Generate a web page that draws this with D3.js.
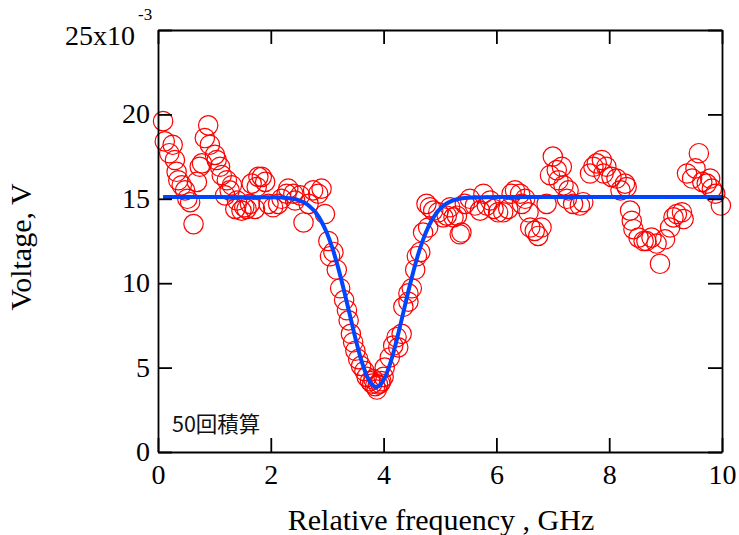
<!DOCTYPE html>
<html>
<head>
<meta charset="utf-8">
<script src="https://cdn.jsdelivr.net/npm/d3@7"></script>
<style>
  html, body { margin: 0; padding: 0; background: #fff; }
  svg { display: block; }
</style>
</head>
<body>
<svg id="chart" width="739" height="535"></svg>
<script>
// Measured voltage (x 10^-3 V) versus relative frequency (GHz), 50 averages
const measFreq = [
  0.09, 0.12, 0.20, 0.26, 0.30, 0.33, 0.36, 0.42, 0.48, 0.52, 0.57, 0.63, 0.69, 0.74, 0.78,
  0.83, 0.89, 0.92, 1.01, 1.04, 1.10, 1.13, 1.19, 1.22, 1.27, 1.31, 1.37, 1.40, 1.48, 1.53,
  1.57, 1.63, 1.66, 1.72, 1.75, 1.78, 1.84, 1.90, 1.96, 2.04, 2.13, 2.19, 2.28, 2.31, 2.40,
  2.43, 2.52, 2.58, 2.67, 2.75, 2.84, 2.90, 2.96, 3.02, 3.05, 3.11, 3.17, 3.23, 3.30, 3.35,
  3.38, 3.42, 3.46, 3.50, 3.55, 3.60, 3.66, 3.70, 3.76, 3.80, 3.82, 3.85, 3.88, 3.90, 3.94,
  3.96, 4.00, 4.02, 4.11, 4.17, 4.23, 4.26, 4.32, 4.35, 4.44, 4.44, 4.50, 4.56, 4.59, 4.65,
  4.70, 4.76, 4.79, 4.82, 4.88, 4.97, 5.06, 5.12, 5.18, 5.24, 5.30, 5.35, 5.38, 5.44, 5.53,
  5.62, 5.71, 5.77, 5.83, 5.89, 5.95, 6.03, 6.12, 6.21, 6.27, 6.33, 6.42, 6.45, 6.51, 6.57,
  6.60, 6.68, 6.74, 6.80, 6.89, 6.95, 7.00, 7.07, 7.10, 7.16, 7.19, 7.25, 7.28, 7.36, 7.48,
  7.54, 7.66, 7.72, 7.78, 7.87, 7.90, 7.95, 8.04, 8.13, 8.20, 8.28, 8.31, 8.37, 8.40, 8.43,
  8.52, 8.61, 8.66, 8.75, 8.84, 8.90, 8.99, 9.08, 9.14, 9.20, 9.29, 9.32, 9.38, 9.47, 9.53,
  9.59, 9.65, 9.73, 9.79, 9.82, 9.88, 9.98
];
const measVolt = [
  19.6, 18.4, 17.7, 18.2, 17.3, 16.6, 16.1, 15.8, 15.5, 15.0, 14.8, 13.5, 16.0, 16.9, 17.1,
  18.6, 19.35, 18.2, 17.6, 17.3, 16.9, 16.4, 15.2, 16.1, 15.5, 15.8, 14.4, 14.9, 14.3, 14.5,
  14.4, 14.7, 15.9, 14.4, 15.7, 16.3, 16.3, 16.0, 14.7, 14.5, 14.7, 15.0, 15.3, 15.6, 15.3,
  14.9, 15.2, 13.6, 14.7, 15.5, 15.3, 15.6, 14.1, 12.5, 11.6, 11.85, 10.8, 9.7, 9.0, 8.4,
  7.8, 7.0, 6.5, 6.0, 5.5, 5.1, 4.8, 4.45, 4.2, 4.05, 4.3, 3.9, 3.7, 4.0, 4.06,
  4.2, 4.45, 5.0, 5.6, 6.3, 6.8, 6.2, 7.0, 8.6, 8.9, 9.4, 9.7, 10.8, 11.6, 11.85,
  13.0, 14.7, 13.3, 14.5, 14.3, 14.2, 13.9, 14.0, 14.5, 13.9, 14.0, 12.9, 13.0, 14.7, 15.0,
  14.6, 14.3, 15.3, 14.6, 14.9, 14.4, 14.2, 14.2, 14.4, 15.3, 15.5, 15.3, 14.7, 15.0, 14.2,
  13.3, 13.1, 12.8, 13.3, 14.7, 16.4, 17.5, 16.7, 16.1, 16.9, 15.8, 15.0, 15.5, 14.7, 14.6,
  14.8, 16.5, 16.9, 17.1, 17.3, 16.5, 16.9, 16.3, 16.2, 15.5, 15.9, 15.7, 14.3, 13.7, 13.2,
  12.7, 12.5, 12.5, 12.7, 12.35, 11.15, 12.6, 13.3, 13.9, 14.1, 14.2, 13.8, 16.5, 16.2, 16.8,
  17.7, 16.0, 15.9, 16.2, 15.6, 15.3, 14.6
];

// Gaussian dip fit, sampled along the frequency axis
const fitFreq = [
  0.09, 1.0, 2.0, 2.2, 2.4, 2.5, 2.6, 2.7, 2.8, 2.9, 3.0, 3.1, 3.2, 3.3, 3.4, 3.5, 3.6, 3.7,
  3.8, 3.87, 3.95, 4.0, 4.1, 4.2, 4.3, 4.4, 4.5, 4.6, 4.7, 4.8, 4.9, 5.0, 5.1, 5.2, 5.3, 5.4,
  5.6, 6.0, 8.0, 10.0
];
const fitVolt = [
  15.1, 15.1, 15.09, 15.07, 15.0, 14.91, 14.76, 14.52, 14.17, 13.64, 12.93, 12.0, 10.85, 9.54,
  8.14, 6.74, 5.49, 4.54, 3.97, 3.85, 4.01, 4.26, 5.07, 6.21, 7.56, 8.98, 10.34, 11.57, 12.58,
  13.38, 13.97, 14.4, 14.68, 14.86, 14.97, 15.03, 15.08, 15.1, 15.1, 15.1
];

const xTicks = [0, 2, 4, 6, 8, 10];
const yTicks = [0, 5, 10, 15, 20, 25];
const xTitle = "Relative frequency , GHz";
const yTitle = "Voltage, V";
const note = "50回積算";

const svg = d3.select("#chart");
const box = { left: 158, right: 722, top: 30, bottom: 452 };
const serif = "'Liberation Serif', 'Times New Roman', serif";

const x = d3.scaleLinear().domain([0, 10]).range([box.left, box.right]);
const y = d3.scaleLinear().domain([0, 25]).range([box.bottom, box.top]);

const plot = svg.append("g");

// measured points: open red circles
plot.append("g")
  .selectAll("circle")
  .data(measFreq.map((f, i) => [f, measVolt[i]]))
  .join("circle")
  .attr("cx", d => x(d[0]))
  .attr("cy", d => y(d[1]))
  .attr("r", 9.7)
  .attr("fill", "none")
  .attr("stroke", "#ff0000")
  .attr("stroke-width", 1.2);

// fit curve
const line = d3.line()
  .x(d => x(d[0]))
  .y(d => y(d[1]))
  .curve(d3.curveMonotoneX);

plot.append("path")
  .datum(fitFreq.map((f, i) => [f, fitVolt[i]]))
  .attr("d", line)
  .attr("fill", "none")
  .attr("stroke", "#0046ff")
  .attr("stroke-width", 4)
  .attr("stroke-linejoin", "round");

// frame and inward ticks on all four sides
const tickLen = 14;
const axisBottom = d3.axisBottom(x).tickValues(xTicks).tickSizeInner(-tickLen).tickSizeOuter(0).tickFormat(d => d);
const axisTop = d3.axisTop(x).tickValues(xTicks).tickSizeInner(-tickLen).tickSizeOuter(0).tickFormat("");
const axisLeft = d3.axisLeft(y).tickValues(yTicks).tickSizeInner(-tickLen).tickSizeOuter(0).tickFormat("");
const axisRight = d3.axisRight(y).tickValues(yTicks).tickSizeInner(-tickLen).tickSizeOuter(0).tickFormat("");

function styleAxis(g) {
  g.selectAll("path.domain").attr("stroke", "#000").attr("stroke-width", 1.8);
  g.selectAll(".tick line").attr("stroke", "#000").attr("stroke-width", 1.8);
}

const gb = svg.append("g").attr("transform", `translate(0,${box.bottom})`).call(axisBottom).call(styleAxis);
gb.selectAll(".tick text")
  .attr("y", 0).attr("dy", null)
  .attr("transform", "translate(0,32)")
  .attr("font-family", serif).attr("font-size", 28).attr("fill", "#000");
svg.append("g").attr("transform", `translate(0,${box.top})`).call(axisTop).call(styleAxis);
svg.append("g").attr("transform", `translate(${box.left},0)`).call(axisLeft).call(styleAxis);
svg.append("g").attr("transform", `translate(${box.right},0)`).call(axisRight).call(styleAxis);

// y tick labels
const yLab = svg.append("g")
  .attr("font-family", serif).attr("font-size", 28).attr("fill", "#000");
yTicks.filter(v => v < 25).forEach(v => {
  yLab.append("text")
    .attr("x", box.left - 8)
    .attr("y", y(v) + 9)
    .attr("text-anchor", "end")
    .text(v);
});
// top label carries the axis multiplier
yLab.append("text")
  .attr("x", box.left - 23)
  .attr("y", y(25) + 15)
  .attr("text-anchor", "end")
  .text(yTicks[yTicks.length - 1] + "x10");
yLab.append("text")
  .attr("x", box.left - 20)
  .attr("y", y(25) - 10)
  .attr("font-size", 17)
  .text("-3");

// axis titles
svg.append("text")
  .attr("x", (box.left + box.right) / 2 + 1)
  .attr("y", 530)
  .attr("text-anchor", "middle")
  .attr("font-family", serif).attr("font-size", 30).attr("fill", "#000")
  .text(xTitle);

svg.append("text")
  .attr("transform", `translate(31,${(box.top + box.bottom) / 2 + 6}) rotate(-90)`)
  .attr("text-anchor", "middle")
  .attr("font-family", serif).attr("font-size", 30).attr("fill", "#000")
  .text(yTitle);

// annotation
svg.append("text")
  .attr("x", 172)
  .attr("y", 432)
  .attr("font-family", "'Noto Sans CJK JP', 'Noto Sans', sans-serif")
  .attr("font-size", 21.5)
  .attr("fill", "#111")
  .text(note);
</script>
</body>
</html>
